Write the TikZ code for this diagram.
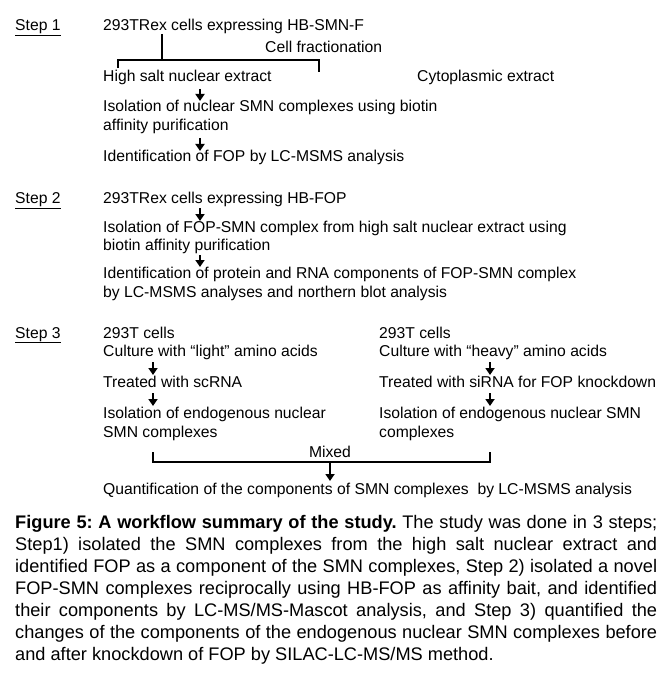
\documentclass[tikz,border=0pt]{standalone}
\usepackage{fontspec}
\setmainfont{Liberation Sans}
\usetikzlibrary{arrows.meta}
\begin{document}
\begin{tikzpicture}[x=1pt,y=-1pt,
  txt/.style={anchor=base west,inner sep=0pt,font=\fontsize{15.7}{18}\selectfont},
  mid/.style={anchor=base,inner sep=0pt,font=\fontsize{15.7}{18}\selectfont},
  arr/.style={line width=2.6pt,-{Triangle[width=9pt,length=7pt]}},
  brk/.style={line width=2pt}]
\useasboundingbox[fill=white] (0,0) rectangle (668,676);

% ---------- Step 1 ----------
\node[txt] (s1) at (15,31) {\underline{Step 1}};
\node[txt] (t1) at (103,31) {293TRex cells expressing HB-SMN-F};
\node[txt] (cf) at (265,53) {Cell fractionation};
\node[txt] (hs) at (103,82) {High salt nuclear extract};
\node[txt] (ce) at (417,82) {Cytoplasmic extract};
\node[txt] (i1a) at (103,112) {Isolation of nuclear SMN complexes using biotin};
\node[txt] (i1b) at (103,131) {affinity purification};
\node[txt] (id1) at (103,162) {Identification of FOP by LC-MSMS analysis};

\coordinate (b1top) at (162,34);
\coordinate (b1mid) at (162,60);
\coordinate (b1l) at (118,60);
\coordinate (b1r) at (319,60);
\coordinate (b1ld) at (118,68);
\coordinate (b1rd) at (319,72);
\draw[brk] (b1top) -- (b1mid);
\draw[brk] (b1ld) -- (b1l) -- (b1r) -- (b1rd);

\coordinate (a1s) at (200,89);  \coordinate (a1e) at (200,101);
\coordinate (a2s) at (200,138); \coordinate (a2e) at (200,151);
\draw[arr] (a1s) -- (a1e);
\draw[arr] (a2s) -- (a2e);

% ---------- Step 2 ----------
\node[txt] (s2) at (15,204) {\underline{Step 2}};
\node[txt] (t2) at (103,204) {293TRex cells expressing HB-FOP};
\node[txt] (i2a) at (103,232) {Isolation of FOP-SMN complex from high salt nuclear extract using};
\node[txt] (i2b) at (103,250) {biotin affinity purification};
\node[txt] (id2a) at (103,278) {Identification of protein and RNA components of FOP-SMN complex};
\node[txt] (id2b) at (103,297) {by LC-MSMS analyses and northern blot analysis};

\coordinate (a3s) at (200,208); \coordinate (a3e) at (200,221);
\coordinate (a4s) at (200,255); \coordinate (a4e) at (200,267);
\draw[arr] (a3s) -- (a3e);
\draw[arr] (a4s) -- (a4e);

% ---------- Step 3 ----------
\node[txt] (s3) at (15,338) {\underline{Step 3}};
\node[txt] (l1) at (103,338) {293T cells};
\node[txt] (l2) at (103,356) {Culture with “light” amino acids};
\node[txt] (l3) at (103,387) {Treated with scRNA};
\node[txt] (l4) at (103,418) {Isolation of endogenous nuclear};
\node[txt] (l5) at (103,437) {SMN complexes};
\node[txt] (r1) at (379,338) {293T cells};
\node[txt] (r2) at (379,356) {Culture with “heavy” amino acids};
\node[txt] (r3) at (379,387) {Treated with siRNA for FOP knockdown};
\node[txt] (r4) at (379,418) {Isolation of endogenous nuclear SMN};
\node[txt] (r5) at (379,437) {complexes};
\node[mid] (mx) at (330,457) {Mixed};
\node[txt] (q) at (103,494) {Quantification of the components of SMN complexes\ \ by LC-MSMS analysis};

\coordinate (a5s) at (153,362); \coordinate (a5e) at (153,375);
\coordinate (a6s) at (153,393); \coordinate (a6e) at (153,406);
\coordinate (a7s) at (490,362); \coordinate (a7e) at (490,375);
\coordinate (a8s) at (490,393); \coordinate (a8e) at (490,406);
\draw[arr] (a5s) -- (a5e);
\draw[arr] (a6s) -- (a6e);
\draw[arr] (a7s) -- (a7e);
\draw[arr] (a8s) -- (a8e);

\coordinate (m1) at (153,452);
\coordinate (m2) at (153,462);
\coordinate (m3) at (490,462);
\coordinate (m4) at (490,452);
\coordinate (mc) at (330,462);
\coordinate (me) at (330,481);
\draw[brk] (m1) -- (m2) -- (m3) -- (m4);
\draw[arr] (mc) -- (me);

% ---------- Caption ----------
\node[anchor=north west,inner sep=0pt,text width=642pt,align=justify,
      font=\fontsize{18.2}{22}\selectfont] (cap) at (15,515) {%
\frenchspacing\spaceskip=0.278em plus 1em minus 0.1em
\textbf{Figure 5: A workflow summary of the study.} The study was done in 3 steps;\linebreak
Step1) isolated the SMN complexes from the high salt nuclear extract and\linebreak
identified FOP as a component of the SMN complexes, Step 2) isolated a novel\linebreak
FOP-SMN complexes reciprocally using HB-FOP as affinity bait, and identified\linebreak
their components by LC-MS/MS-Mascot analysis, and Step 3) quantified the\linebreak
changes of the components of the endogenous nuclear SMN complexes before\linebreak
and after knockdown of FOP by SILAC-LC-MS/MS method.};
\end{tikzpicture}
\end{document}
